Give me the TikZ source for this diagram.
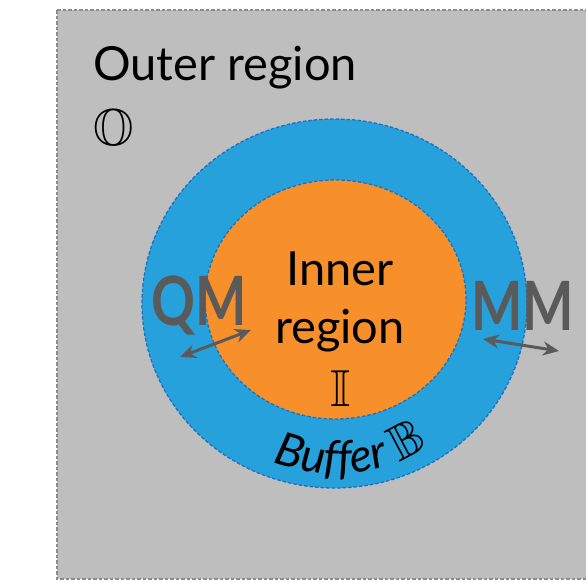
\documentclass[tikz,border=0pt]{standalone}
\usepackage{amssymb}
\usepackage{fontspec}
\setmainfont{Lato}
\usetikzlibrary{arrows.meta,shapes.geometric,decorations.text}

\definecolor{outerfill}{HTML}{BEBEBE}
\definecolor{outerline}{HTML}{8C8C8C}
\definecolor{bufferfill}{HTML}{26A1DB}
\definecolor{bufferline}{HTML}{1A72C2}
\definecolor{innerfill}{HTML}{F7902A}
\definecolor{labelgray}{HTML}{5A5A5A}

\tikzset{
  region/.style={ellipse, inner sep=0pt, dashed, dash pattern=on 3.5pt off 2pt, line width=1.3pt},
  bigtext/.style={font=\fontsize{47}{56}\selectfont, inner sep=0pt},
  symtext/.style={font=\fontsize{52}{60}\selectfont, inner sep=0pt},
  methodlabel/.style={font=\bfseries\fontsize{68}{80}\selectfont, text=labelgray, inner sep=0pt},
  exchange/.style={{Stealth[length=16pt,width=14pt]}-{Stealth[length=16pt,width=14pt]}, line width=3pt, draw=labelgray},
}

\begin{document}
\begin{tikzpicture}[x=1pt,y=-1pt]
  \useasboundingbox (0,0) rectangle (586,581);
  \clip (0,0) rectangle (586,581);

  % outer region
  \draw[outerline, fill=outerfill, dashed, dash pattern=on 3.5pt off 2pt, line width=1.4pt]
    (57,10) rectangle (620,579);

  % buffer and inner region
  \node[region, draw=bufferline, fill=bufferfill, minimum width=385pt, minimum height=369pt]
    (buffer) at (334.5,303.5) {};
  \node[region, draw=bufferline, fill=innerfill, minimum width=261pt, minimum height=239pt]
    (inner) at (335.5,299.5) {};

  % labels of the outer region
  \node[bigtext, anchor=base west] (outerlbl) at (93,80) {Outer region};
  \node[symtext, anchor=base west] (outersym) at (93,145) {$\mathbb{O}$};

  % labels of the inner region
  \node[bigtext, anchor=base] (innerA) at (340,285) {Inner};
  \node[bigtext, anchor=base] (innerB) at (340,343) {region};
  \node[symtext, anchor=base] (innersym) at (341,406) {$\mathbb{I}$};

  % buffer label along the bottom of the ring
  \path[decorate, decoration={text along path, text align=center,
      text={|\itshape\fontsize{46}{50}\selectfont|Buffer {\fontsize{50}{50}\selectfont$\mathbb{B}$}}}]
    (335,303) ++(152:171) arc[start angle=152, end angle=16, radius=171];

  % method labels
  \node[methodlabel, anchor=base west] (qm) at (151,325) {\scalebox{0.8}[1]{QM}};
  \node[methodlabel, anchor=base west] (mm) at (471,330) {\scalebox{0.8}[1]{MM}};

  % exchange arrows
  \coordinate (qmA) at (180,357);
  \coordinate (qmB) at (251,330);
  \coordinate (mmA) at (483,339);
  \coordinate (mmB) at (559,351);
  \draw[exchange] (qmA) -- (qmB);
  \draw[exchange] (mmA) -- (mmB);
\end{tikzpicture}
\end{document}
